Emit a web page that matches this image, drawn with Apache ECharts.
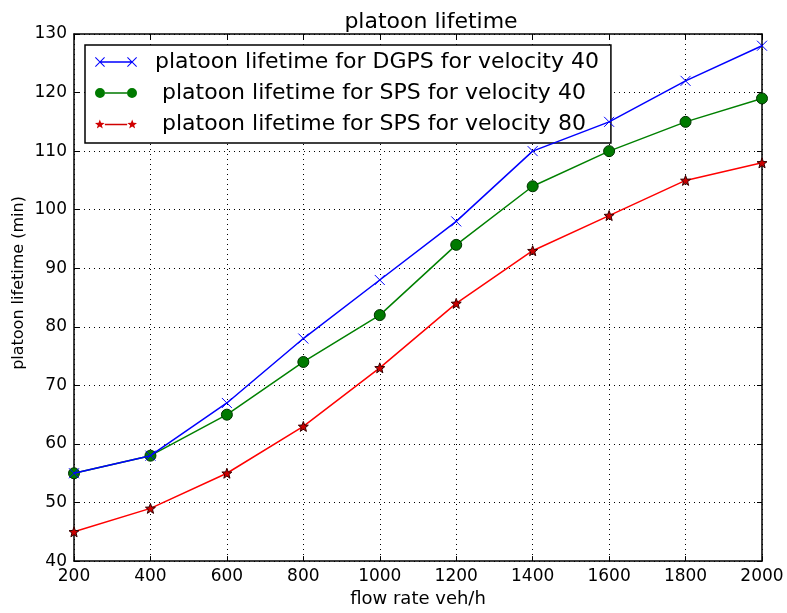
<!DOCTYPE html>
<html>
<head>
<meta charset="utf-8">
<script src="https://cdn.jsdelivr.net/npm/echarts@6/dist/echarts.min.js"></script>
<style>
  html, body { margin: 0; padding: 0; background: #fff; }
  #chart { width: 787px; height: 613px; }
</style>
</head>
<body>
<div id="chart"></div>
<script>
// flow rate (veh/h)
var flowRate = [200, 400, 600, 800, 1000, 1200, 1400, 1600, 1800, 2000];
// platoon lifetime (min)
var dgps40 = [55, 58, 67, 78, 88, 98, 110, 115, 122, 128];
var sps40 = [55, 58, 65, 74, 82, 94, 104, 110, 115, 119];
var sps80 = [45, 49, 55, 63, 73, 84, 93, 99, 105, 108];

var names = [
  'platoon lifetime for DGPS for velocity 40',
  ' platoon lifetime for SPS for velocity 40',
  ' platoon lifetime for SPS for velocity 80'
];

function pairs(vals) {
  return flowRate.map(function (x, i) { return [x, vals[i]]; });
}

// ---- marker paths ----
function seg(x1, y1, x2, y2, h) {
  var dx = x2 - x1, dy = y2 - y1, L = Math.sqrt(dx * dx + dy * dy);
  var nx = -dy / L * h, ny = dx / L * h;
  return 'M' + (x1 + nx) + ',' + (y1 + ny) + 'L' + (x2 + nx) + ',' + (y2 + ny) +
    'L' + (x2 - nx) + ',' + (y2 - ny) + 'L' + (x1 - nx) + ',' + (y1 - ny) + 'Z';
}
function xMark(cx, cy, r) {
  return seg(cx - r, cy - r, cx + r, cy + r, 0.5) + seg(cx - r, cy + r, cx + r, cy - r, 0.5);
}
function circleMark(cx, cy, r) {
  return 'M' + (cx - r) + ',' + cy + 'A' + r + ',' + r + ',0,1,1,' + (cx + r) + ',' + cy +
    'A' + r + ',' + r + ',0,1,1,' + (cx - r) + ',' + cy + 'Z';
}
function starMark(cx, cy, r) {
  var p = '';
  for (var k = 0; k < 10; k++) {
    var rr = k % 2 ? r * 0.42 : r;
    var a = -Math.PI / 2 + k * Math.PI / 5;
    p += (k ? 'L' : 'M') + (cx + rr * Math.cos(a)).toFixed(2) + ',' + (cy + rr * Math.sin(a)).toFixed(2);
  }
  return p + 'Z';
}

var xSym = 'path://M0,0L10,10M10,0L0,10';
var starSym = 'path://' + starMark(5, 5, 5);

// legend icons: line with a marker at both ends
var iconX = 'path://' + seg(5, 6, 37, 6, 0.75) + xMark(5, 6, 4.6) + xMark(37, 6, 4.6);
var iconO = 'path://' + seg(10, 6, 32, 6, 0.75) + circleMark(5, 6, 5) + circleMark(37, 6, 5);
var iconS = 'path://' + seg(10, 6, 32, 6, 0.75) + starMark(5, 6, 5) + starMark(37, 6, 5);

var font = 'DejaVu Sans';
var dotted = { color: '#000', type: [1, 4], width: 1 };
var frame = { color: '#000', width: 1.5 };
var plain = function (v) { return String(v); };

var chart = echarts.init(document.getElementById('chart'));
chart.setOption({
  animation: false,
  backgroundColor: '#fff',
  textStyle: { fontFamily: font },
  title: {
    text: 'platoon lifetime',
    left: 426, top: 6, textAlign: 'center',
    textStyle: { fontFamily: font, fontSize: 22, fontWeight: 'normal', color: '#000' }
  },
  grid: { left: 74, right: 25, top: 34, bottom: 48 },
  legend: {
    orient: 'vertical',
    left: 85, top: 45,
    padding: [6, 12, 8, 10],
    itemGap: 9,
    itemWidth: 42, itemHeight: 10,
    borderColor: '#000', borderWidth: 1.5, borderRadius: 0,
    backgroundColor: '#fff',
    textStyle: { fontFamily: font, fontSize: 22, color: '#000', padding: [0, 0, 0, 13] },
    data: [
      { name: names[0], icon: iconX, itemStyle: { color: '#0000ff', borderWidth: 0 } },
      { name: names[1], icon: iconO, itemStyle: { color: '#007a00', borderWidth: 0 } },
      { name: names[2], icon: iconS, itemStyle: { color: '#d00000', borderWidth: 0 } }
    ]
  },
  graphic: [{
    type: 'text', x: 19, y: 283, rotation: Math.PI / 2,
    style: {
      text: 'platoon lifetime (min)', fill: '#000',
      font: '16px "DejaVu Sans"', align: 'center', verticalAlign: 'middle'
    }
  }],
  xAxis: [{
    type: 'value', min: 200, max: 2000, interval: 200, position: 'bottom',
    name: 'flow rate veh/h', nameLocation: 'middle', nameGap: 27,
    nameTextStyle: { fontFamily: font, fontSize: 18, color: '#000' },
    axisLine: { show: true, onZero: false, lineStyle: frame },
    axisTick: { show: true, inside: true, length: 5, lineStyle: { color: '#000' } },
    axisLabel: { fontFamily: font, fontSize: 17, color: '#000', margin: 7, formatter: plain },
    splitLine: { show: true, lineStyle: dotted }
  }, {
    type: 'value', min: 200, max: 2000, interval: 200, position: 'top',
    axisLine: { show: true, onZero: false, lineStyle: frame },
    axisTick: { show: true, inside: true, length: 5, lineStyle: { color: '#000' } },
    axisLabel: { show: false },
    splitLine: { show: false }
  }],
  yAxis: [{
    type: 'value', min: 40, max: 130, interval: 10, position: 'left',
    axisLine: { show: true, onZero: false, lineStyle: frame },
    axisTick: { show: true, inside: true, length: 5, lineStyle: { color: '#000' } },
    axisLabel: { fontFamily: font, fontSize: 17, color: '#000', margin: 7, formatter: plain },
    splitLine: { show: true, lineStyle: dotted }
  }, {
    type: 'value', min: 40, max: 130, interval: 10, position: 'right',
    axisLine: { show: true, onZero: false, lineStyle: frame },
    axisTick: { show: true, inside: true, length: 5, lineStyle: { color: '#000' } },
    axisLabel: { show: false },
    splitLine: { show: false }
  }],
  series: [
    {
      name: names[0],
      type: 'line', data: pairs(dgps40),
      symbol: xSym, symbolSize: 10, showAllSymbol: true,
      lineStyle: { color: '#0000ff', width: 1.5 },
      itemStyle: { color: 'none', borderColor: '#0000ff', borderWidth: 1 },
      clip: false, z: 5
    },
    {
      name: names[1],
      type: 'line', data: pairs(sps40),
      symbol: 'circle', symbolSize: 11, showAllSymbol: true,
      lineStyle: { color: '#008000', width: 1.5 },
      itemStyle: { color: '#007a00', borderColor: '#003300', borderWidth: 1 },
      clip: false, z: 4
    },
    {
      name: names[2],
      type: 'line', data: pairs(sps80),
      symbol: starSym, symbolSize: 10, showAllSymbol: true,
      lineStyle: { color: '#ff0000', width: 1.5 },
      itemStyle: { color: '#cc0000', borderColor: '#330000', borderWidth: 1 },
      clip: false, z: 3
    }
  ]
});
</script>
</body>
</html>
